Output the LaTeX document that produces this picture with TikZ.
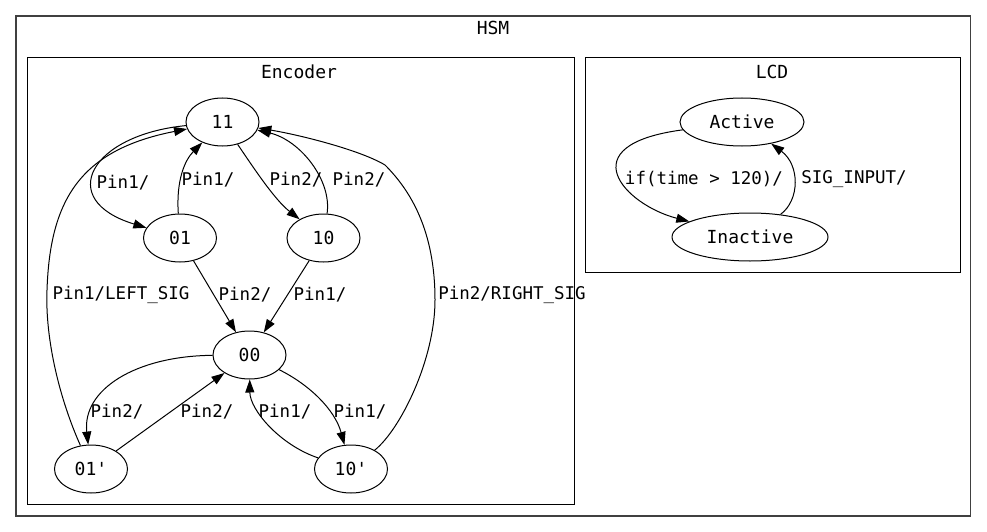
\documentclass[tikz,border=0pt]{standalone}
\usepackage{fontspec}
\setmonofont{DejaVu Sans Mono}
\usetikzlibrary{arrows.meta,shapes.geometric}

\begin{document}
\begin{tikzpicture}[x=1pt, y=-1pt,
	state/.style={draw, ellipse, line width=1pt, inner sep=0pt, minimum width=73pt, minimum height=48pt, font=\ttfamily\fontsize{18}{18}\selectfont},
	trans/.style={line width=1pt, -{Triangle[length=13pt,width=9pt]}},
	lbl/.style={font=\ttfamily\fontsize{17.5}{17.5}\selectfont, inner sep=0pt},
	box/.style={draw, line width=1pt},
	title/.style={font=\ttfamily\fontsize{18}{18}\selectfont, inner sep=0pt}]
	\useasboundingbox (0,0) rectangle (987,532);

	\draw[box, draw=black!75, line width=1.5pt] (16,16) rectangle (970.5,516);
	\draw[box] (27.5,57.5) rectangle (574,504.5);
	\draw[box] (585.5,57.5) rectangle (960,272);
	\node[title] (hsm) at (493,28) {HSM};
	\node[title] (encoder) at (299,72) {Encoder};
	\node[title] (lcd) at (772,72) {LCD};

	\node[state] (n11) at (222.5,122) {11};
	\node[state] (n01) at (180,238) {01};
	\node[state] (n10) at (323.5,238) {10};
	\node[state] (n00) at (249.5,355) {00};
	\node[state] (n01p) at (91,469) {01'};
	\node[state] (n10p) at (351,469) {10'};
	\node[state, minimum width=124pt] (active) at (742,122) {Active};
	\node[state, minimum width=156pt] (inactive) at (750,237) {Inactive};

	\draw[trans] (n11) .. controls (90,135) and (55,200) .. (n01);
	\draw[trans] (n01) .. controls (176,180) and (185,160) .. (n11);
	\draw[trans] (n11) .. controls (255,170) and (275,200) .. (n10);
	\draw[trans] (n10) .. controls (332,180) and (300,140) .. (n11);
	\draw[trans] (n01) -- (n00);
	\draw[trans] (n10) -- (n00);
	\draw[trans] (n00) .. controls (135,356) and (82,390) .. (n01p);
	\draw[trans] (n01p) -- (n00);
	\draw[trans] (n10p) .. controls (280,445) and (250,410) .. (n00);
	\draw[trans] (n00) .. controls (310,385) and (335,410) .. (n10p);
	\draw[trans] (n10p) .. controls (400,430) and (435,360) .. (435,300) .. controls (435,230) and (410,190) .. (385,165) .. controls (360,150) and (300,135) .. (n11);
	\draw[trans] (n01p) .. controls (60,400) and (45,340) .. (47,290) .. controls (50,200) and (80,150) .. (n11);
	\draw[trans] (active) .. controls (568,145) and (625,205) .. (inactive);
	\draw[trans] (inactive) .. controls (800,200) and (800,165) .. (active);

	\node[lbl] (l1) at (123,183) {Pin1/};
	\node[lbl] (l2) at (208,180) {Pin1/};
	\node[lbl] (l3) at (296,180) {Pin2/};
	\node[lbl] (l4) at (359,180) {Pin2/};
	\node[lbl] (l5) at (245,295) {Pin2/};
	\node[lbl] (l6) at (320,295) {Pin1/};
	\node[lbl] (l7) at (117,412) {Pin2/};
	\node[lbl] (l8) at (207,412) {Pin2/};
	\node[lbl] (l9) at (285,412) {Pin1/};
	\node[lbl] (l10) at (360,412) {Pin1/};
	\node[lbl] (l11) at (512,295) {Pin2/RIGHT\_SIG};
	\node[lbl] (l12) at (121,295) {Pin1/LEFT\_SIG};
	\node[lbl] (l13) at (704,179) {if(time > 120)/};
	\node[lbl] (l14) at (854,179) {SIG\_INPUT/};
\end{tikzpicture}
\end{document}
